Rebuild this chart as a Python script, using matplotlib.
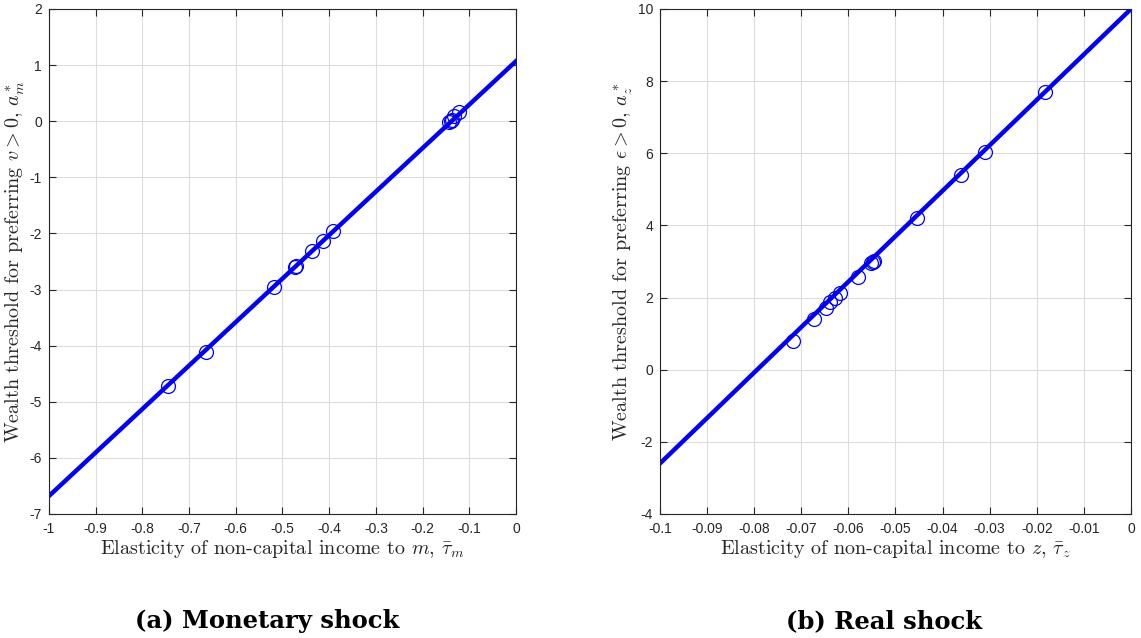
import matplotlib
matplotlib.use('Agg')
import matplotlib.pyplot as plt

plt.rcParams['mathtext.fontset'] = 'cm'
plt.rcParams['font.family'] = ['Liberation Sans', 'DejaVu Sans']
plt.rcParams['axes.unicode_minus'] = False

# monetary shock: fitted line and model points
mon_line_x = [-1.0, 0.0]
mon_line_y = [-6.68, 1.07]
mon_x = [-0.745, -0.664, -0.518, -0.474, -0.471, -0.437, -0.414, -0.391,
         -0.143, -0.140, -0.138, -0.132, -0.121]
mon_y = [-4.72, -4.11, -2.95, -2.60, -2.58, -2.31, -2.13, -1.95,
         -0.01, 0.01, 0.03, 0.09, 0.17]

# real shock
real_line_x = [-0.1, 0.0]
real_line_y = [-2.6, 10.0]
real_x = [-0.0718, -0.0672, -0.0648, -0.0640, -0.0628, -0.0618, -0.0580,
          -0.0552, -0.0548, -0.0545, -0.0454, -0.0360, -0.0310, -0.0183]
real_y = [0.80, 1.41, 1.70, 1.87, 2.00, 2.13, 2.58,
          2.95, 2.98, 3.02, 4.20, 5.40, 6.03, 7.70]

mon_xticks = [-1, -0.9, -0.8, -0.7, -0.6, -0.5, -0.4, -0.3, -0.2, -0.1, 0]
mon_yticks = [-7, -6, -5, -4, -3, -2, -1, 0, 1, 2]
real_xticks = [-0.1, -0.09, -0.08, -0.07, -0.06, -0.05, -0.04, -0.03, -0.02, -0.01, 0]
real_yticks = [-4, -2, 0, 2, 4, 6, 8, 10]

fig = plt.figure(figsize=(11.41, 6.38), dpi=100)
ax1 = fig.add_axes([0.0429, 0.1944, 0.4093, 0.7915])
ax2 = fig.add_axes([0.5784, 0.1944, 0.4128, 0.7915])

axcol = '#262626'


def style(ax, xt, yt, xlim, ylim):
    ax.set_xlim(xlim)
    ax.set_ylim(ylim)
    ax.set_xticks(xt)
    ax.set_yticks(yt)
    ax.set_xticklabels([('%g' % v) for v in xt], fontsize=10)
    ax.set_yticklabels([('%g' % v) for v in yt], fontsize=10)
    ax.grid(True, color='#dcdcdc', lw=0.8)
    ax.set_axisbelow(True)
    ax.tick_params(direction='in', top=True, right=True, length=5,
                   colors=axcol)
    ax.tick_params(axis='x', pad=6)
    ax.tick_params(axis='y', pad=5)
    for s in ax.spines.values():
        s.set_color(axcol)
        s.set_linewidth(0.8)


ax1.plot(mon_line_x, mon_line_y, color='#0000ff', lw=3.2, zorder=2)
ax1.plot(mon_x, mon_y, 'o', mfc='none', mec='#0000ff', ms=10, mew=0.9, zorder=3)
style(ax1, mon_xticks, mon_yticks, (-1, 0), (-7, 2))
ax1.set_xlabel(r'Elasticity of non-capital income to $m$, $\bar{\tau}_m$',
               family='cmr10', fontsize=14.5, color=axcol, labelpad=1)
ax1.set_ylabel(r'Wealth threshold for preferring $v>0$, $a_m^*$',
               family='cmr10', fontsize=14.5, color=axcol, labelpad=2)

ax2.plot(real_line_x, real_line_y, color='#0000ff', lw=3.2, zorder=2)
ax2.plot(real_x, real_y, 'o', mfc='none', mec='#0000ff', ms=10, mew=0.9, zorder=3)
style(ax2, real_xticks, real_yticks, (-0.1, 0), (-4, 10))
ax2.set_xlabel(r'Elasticity of non-capital income to $z$, $\bar{\tau}_z$',
               family='cmr10', fontsize=14.5, color=axcol, labelpad=1)
ax2.set_ylabel(r'Wealth threshold for preferring $\epsilon>0$, $a_z^*$',
               family='cmr10', fontsize=14.5, color=axcol, labelpad=2)

fig.text(0.234, 0.0265, '(a) Monetary shock', family='DejaVu Serif',
         weight='bold', fontsize=17.5, ha='center', va='center')
fig.text(0.775, 0.0265, '(b) Real shock', family='DejaVu Serif',
         weight='bold', fontsize=17.5, ha='center', va='center')

fig.savefig('out.png', dpi=100)
